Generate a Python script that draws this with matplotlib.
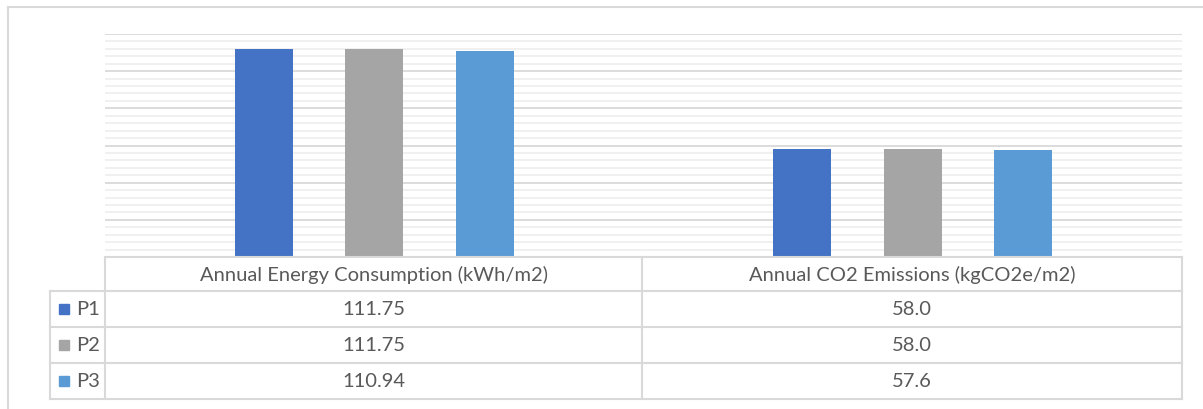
import numpy as np
import matplotlib
matplotlib.use('Agg')
import matplotlib.pyplot as plt
from matplotlib.patches import Rectangle
from matplotlib.ticker import MultipleLocator

matplotlib.rcParams['font.family'] = ['Lato', 'DejaVu Sans']

categories = ['Annual Energy Consumption (kWh/m2)', 'Annual CO2 Emissions (kgCO2e/m2)']
series = ['P1', 'P2', 'P3']
p1 = [111.75, 58.0]
p2 = [111.75, 58.0]
p3 = [110.94, 57.6]
labels = [['111.75', '58.0'], ['111.75', '58.0'], ['110.94', '57.6']]
colors = ['#4472C4', '#A5A5A5', '#5B9BD5']

W, H = 1203, 410
GRID = '#D9D9D9'
TXT = '#595959'
FS = 14.5

fig = plt.figure(figsize=(W / 100, H / 100), dpi=100)

# plot area (pixel box 105..1182 x 35..258)
L, R, T, B = 105, 1182, 35, 258
ax = fig.add_axes([L / W, 1 - B / H, (R - L) / W, (B - T) / H])
x = np.arange(len(categories))
off = 0.205
bw = 0.108
for i, vals in enumerate([p1, p2, p3]):
    ax.bar(x + (i - 1) * off, vals, width=bw, color=colors[i], zorder=3)
ax.set_xlim(-0.5, 1.5)
ax.set_ylim(0, 120)
ax.yaxis.set_major_locator(MultipleLocator(20))
ax.yaxis.set_minor_locator(MultipleLocator(4))
ax.grid(axis='y', which='major', color=GRID, lw=1.3, zorder=0)
ax.grid(axis='y', which='minor', color='#EFEFEF', lw=1.3, zorder=0)
ax.tick_params(which='both', length=0, labelleft=False, labelbottom=False)
for s in ax.spines.values():
    s.set_visible(False)

# overlay in pixel coordinates for frame + data table
ov = fig.add_axes([0, 0, 1, 1], facecolor='none')
ov.set_xlim(0, W); ov.set_ylim(H, 0); ov.axis('off')

# outer chart frame (top and left visible)
ov.plot([8, W], [8, 8], color=GRID, lw=1.5)
ov.plot([8, 8], [8, H], color=GRID, lw=1.5)

rows = [258, 292, 328, 364, 400]
cols = [105, 642, 1182]
ov.plot([105, 1182], [258, 258], color=GRID, lw=1.5)
for y in rows[1:]:
    ov.plot([50, 1182], [y, y], color=GRID, lw=1.5)
ov.plot([50, 50], [292, 400], color=GRID, lw=1.5)
for c in cols:
    ov.plot([c, c], [258, 400], color=GRID, lw=1.5)

for j, cat in enumerate(categories):
    cx = (cols[j] + cols[j + 1]) / 2
    ov.text(cx, (rows[0] + rows[1]) / 2, cat, ha='center', va='center',
            fontsize=FS, color=TXT)
    for i in range(len(series)):
        ov.text(cx, (rows[i + 1] + rows[i + 2]) / 2, labels[i][j],
                ha='center', va='center', fontsize=FS, color=TXT)

for i, name in enumerate(series):
    cy = (rows[i + 1] + rows[i + 2]) / 2
    ov.add_patch(Rectangle((59, cy - 5), 10, 10, color=colors[i]))
    ov.text(76, cy, name, ha='left', va='center', fontsize=FS, color=TXT)

fig.savefig('out.png', dpi=100)
